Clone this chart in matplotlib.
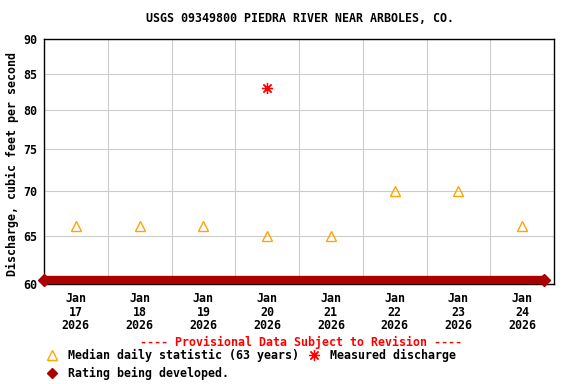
import matplotlib
matplotlib.use("Agg")
import matplotlib.pyplot as plt
import matplotlib.transforms as mtransforms
from matplotlib.lines import Line2D
from datetime import datetime, timedelta

# ---- data ----
median_dates = [datetime(2026, 1, d, 12) for d in range(17, 25)]
median_values = [66, 66, 66, 65, 65, 70, 70, 66]
measured_dates = [datetime(2026, 1, 20, 12)]
measured_values = [83]
rating_dates = [datetime(2026, 1, 17, 0), datetime(2026, 1, 24, 20, 15)]
rating_values = [60, 60]
tick_labels = [d.strftime("%b\n%d\n%Y") for d in median_dates]
y_ticks = [60, 65, 70, 75, 80, 85, 90]

title = "USGS 09349800 PIEDRA RIVER NEAR ARBOLES, CO."
ylabel = "Discharge, cubic feet per second"

FONT = "DejaVu Sans Mono"
FS = 8.4
plt.rcParams["font.family"] = FONT
plt.rcParams["font.weight"] = "bold"

fig = plt.figure(figsize=(5.76, 3.84), dpi=100)
ax = fig.add_axes([44/576, 1-284/384, 510/576, 245/384])

ax.set_yscale("log")
ax.set_ylim(60, 90)
ax.set_xlim(datetime(2026, 1, 17), datetime(2026, 1, 25))

ax.set_yticks(y_ticks)
ax.set_yticklabels([str(v) for v in y_ticks], fontsize=FS, fontweight="bold")
ax.yaxis.set_minor_locator(matplotlib.ticker.NullLocator())
ax.set_xticks(median_dates)
ax.set_xticklabels(tick_labels, fontsize=FS, fontweight="bold", linespacing=1.05)
midnights = [datetime(2026, 1, 17) + timedelta(days=i) for i in range(1, 8)]
ax.set_xticks(midnights, minor=True)
ax.tick_params(axis="both", which="both", length=0)
ax.tick_params(axis="x", pad=6)
ax.tick_params(axis="y", pad=5)

ax.grid(False)
ax.xaxis.grid(True, which="minor", color="#cccccc", linewidth=0.8)
ax.yaxis.grid(True, which="major", color="#cccccc", linewidth=0.8)
for s in ax.spines.values():
    s.set_linewidth(1.0)
    s.set_color("black")

# rating being developed band
band_tr = mtransforms.offset_copy(ax.transData, fig=fig, x=0, y=4, units="dots")
ax.plot(rating_dates, rating_values, color="#aa0000", linewidth=6.0,
        solid_capstyle="butt", marker="D", markersize=6,
        transform=band_tr, clip_on=False, zorder=5)

ax.plot(median_dates, median_values, linestyle="none", marker="^",
        markersize=6.5, markerfacecolor="none", markeredgecolor="#ffa500",
        markeredgewidth=1.0, zorder=4)
ax.plot(measured_dates, measured_values, linestyle="none", marker=(8, 2, 0),
        markersize=8, color="#ff0000", markeredgewidth=0.9, zorder=4)

fig.text(300/576, 1-19/384, title, ha="center", va="center",
         fontsize=FS, fontweight="bold")
fig.text(12/576, 1-164/384, ylabel, rotation=90, ha="center", va="center",
         fontsize=FS, fontweight="bold")
fig.text(301/576, 1-342/384, "---- Provisional Data Subject to Revision ----",
         ha="center", va="center", fontsize=FS, fontweight="bold", color="#ff0000")

h_med = Line2D([], [], linestyle="none", marker="^", markersize=6.5,
               markerfacecolor="none", markeredgecolor="#ffa500", markeredgewidth=1.0)
h_rat = Line2D([], [], linestyle="none", marker="D", markersize=5.5, color="#aa0000")
h_mea = Line2D([], [], linestyle="none", marker=(8, 2, 0), markersize=8,
               color="#ff0000", markeredgewidth=0.9)
leg = fig.legend([h_med, h_rat, h_mea],
                 ["Median daily statistic (63 years)", "Rating being developed.",
                  "Measured discharge"],
                 ncol=2, loc="upper left", bbox_to_anchor=(46/576, 1-349/384),
                 frameon=False, handlelength=1.0, handletextpad=0.9,
                 columnspacing=0.75, borderpad=0, borderaxespad=0, labelspacing=0.45,
                 prop={"family": FONT, "weight": "bold", "size": FS})

fig.savefig("out.png", dpi=100, facecolor="white")
